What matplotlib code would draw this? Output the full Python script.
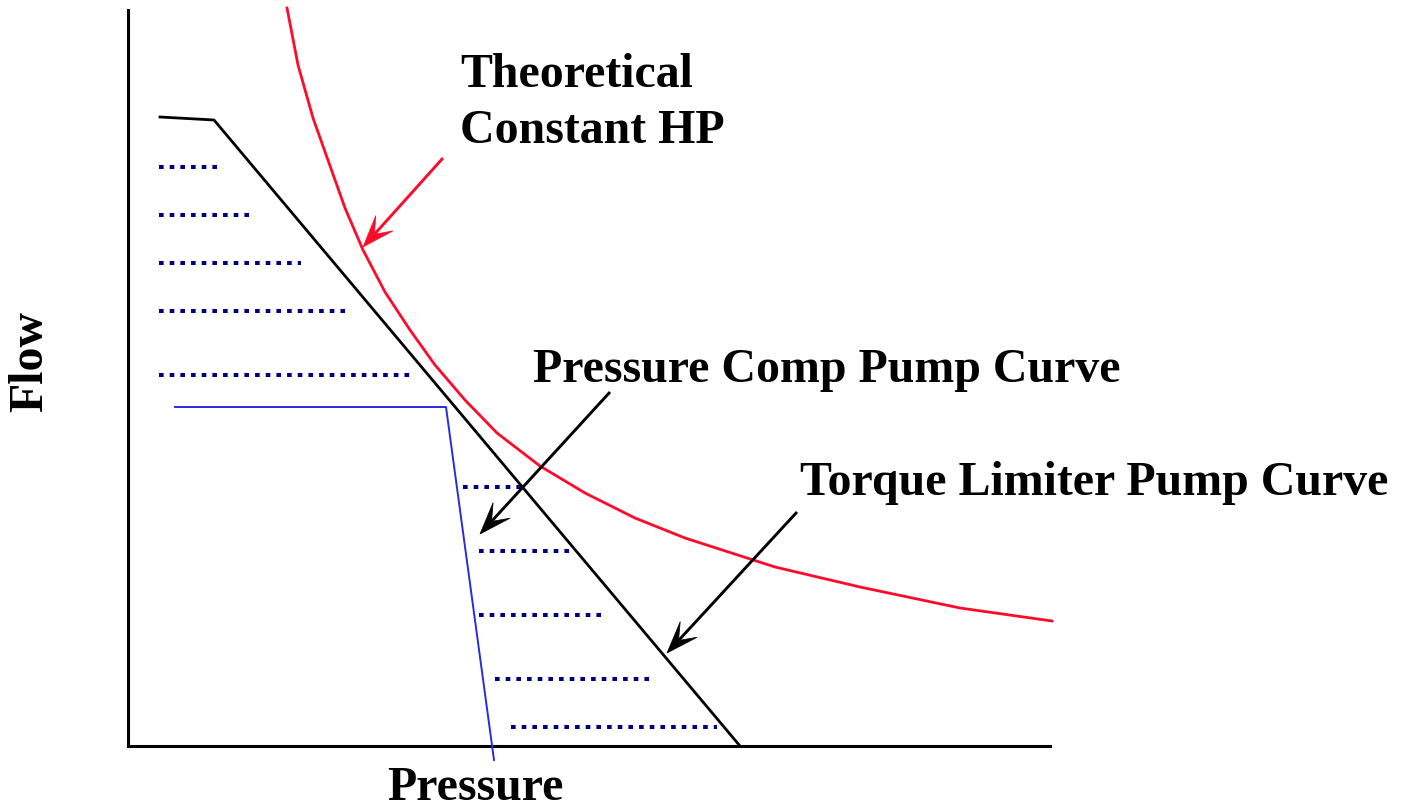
import numpy as np
import matplotlib
matplotlib.use("Agg")
import matplotlib.pyplot as plt
from matplotlib.patches import Polygon

# ---- curve data (pressure, flow) ----
hp_pressure = [159, 170, 185, 217, 235, 257, 282, 307, 337, 369, 412, 457, 507, 557, 647, 732, 832, 924]
hp_flow     = [738, 681, 628, 538, 496, 454, 416, 381, 346, 313, 280, 253, 228, 208, 179, 159, 138, 125]

torque_pressure = [32, 86, 612]
torque_flow     = [629, 626, 0]

comp_pressure = [47, 318, 366]
comp_flow     = [339, 339, -14]

# efficiency-loss hatch rows: flow level, start pressure, end pressure
hatch_flow  = [579, 531, 483, 435, 371, 259, 195, 131, 67, 19]
hatch_start = [31, 31, 31, 31, 31, 335, 351, 351, 367, 383]
hatch_end   = [94, 127, 173, 222, 286, 397, 447, 479, 527, 589]

# callout arrows: (tail pressure, tail flow, tip pressure, tip flow)
arrow_hp     = (315, 588, 235, 499)
arrow_comp   = (482, 354, 352, 212)
arrow_torque = (669, 234, 539, 93)

RED = "#ff0a2a"
BLUE = "#2a2ae0"
NAVY = "#000080"

W, H = 1407, 809
fig = plt.figure(figsize=(W / 100, H / 100), dpi=100)
fig.patch.set_facecolor("white")
left, right, bottom, top = 128, 1050, 746, 10
ax = fig.add_axes([left / W, (H - bottom) / H, (right - left) / W, (bottom - top) / H])
ax.set_xlim(0, right - left)
ax.set_ylim(0, bottom - top)
for s in ("top", "right"):
    ax.spines[s].set_visible(False)
for s in ("left", "bottom"):
    ax.spines[s].set_linewidth(2.2)
    ax.spines[s].set_color("black")
ax.set_xticks([])
ax.set_yticks([])

# hatch rows
for f, x0, x1 in zip(hatch_flow, hatch_start, hatch_end):
    ax.plot([x0, x1], [f, f], color=NAVY, lw=2.9, linestyle=(0, (1.15, 1.5)),
            solid_capstyle="butt", dash_capstyle="butt", clip_on=False, zorder=2)

# curves
ax.plot(hp_pressure, hp_flow, color=RED, lw=2.0, clip_on=False, zorder=3)
ax.plot(torque_pressure, torque_flow, color="black", lw=2.0, clip_on=False, zorder=3)
ax.plot(comp_pressure, comp_flow, color=BLUE, lw=1.4, clip_on=False, zorder=3)


def callout(arrow, color):
    x0, y0, x1, y1 = arrow
    d = np.array([x0 - x1, y0 - y1], dtype=float)
    u = d / np.hypot(*d)
    n = np.array([-u[1], u[0]])
    tip = np.array([x1, y1], dtype=float)
    head_len, half_w, notch = 32.0, 11.5, 17.0
    back = tip + u * notch
    ax.plot([x0, back[0]], [y0, back[1]], color=color, lw=2.1,
            solid_capstyle="butt", clip_on=False, zorder=4)
    pts = [tip,
           tip + u * head_len + n * half_w,
           back,
           tip + u * head_len - n * half_w]
    ax.add_patch(Polygon(pts, closed=True, facecolor=color, edgecolor=color,
                         lw=0.5, clip_on=False, zorder=4))


callout(arrow_hp, RED)
callout(arrow_comp, "black")
callout(arrow_torque, "black")

font = dict(family="Liberation Serif", weight="bold", color="black", fontsize=34.5)
ax.text(332, 659, "Theoretical", ha="left", va="baseline", clip_on=False, **font)
ax.text(332, 603, "Constant HP", ha="left", va="baseline", clip_on=False, **font)
ax.text(405, 364, "Pressure Comp Pump Curve", ha="left", va="baseline", clip_on=False, **font)
ax.text(672, 251, "Torque Limiter Pump Curve", ha="left", va="baseline", clip_on=False, **font)
ax.text(259, -54, "Pressure", ha="left", va="baseline", clip_on=False, **font)
ax.text(-98, 384, "Flow", rotation=90, ha="center", va="center", clip_on=False, **font)

fig.savefig("out.png", dpi=100, facecolor="white")
